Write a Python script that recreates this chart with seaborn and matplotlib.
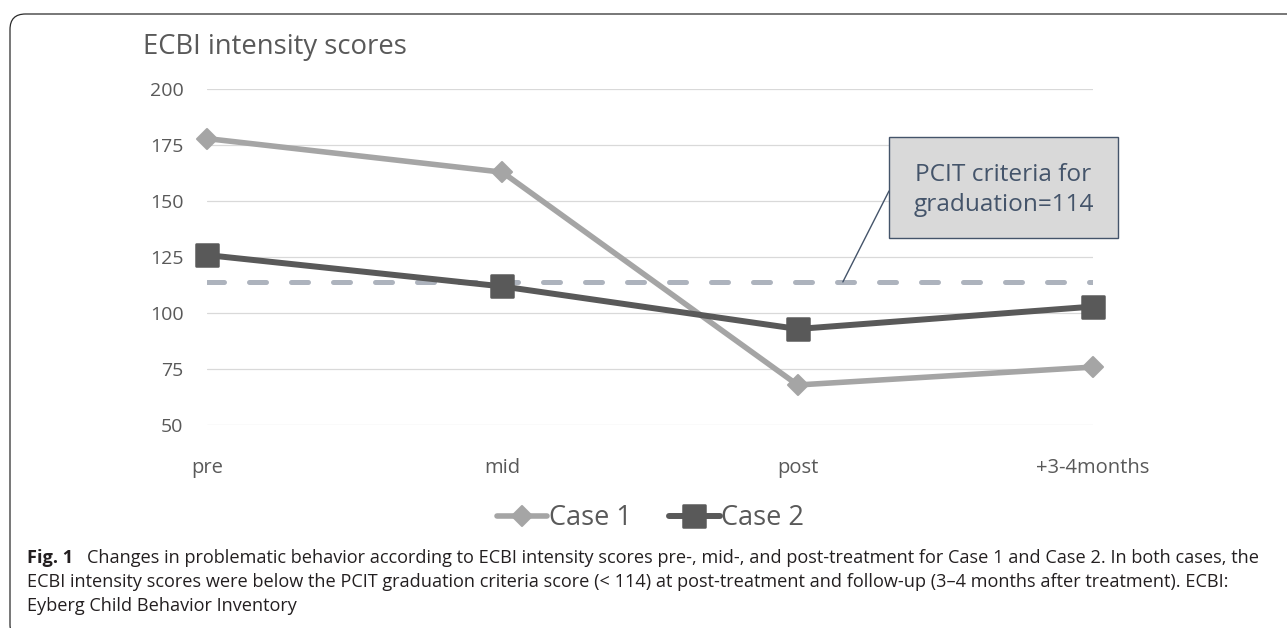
import matplotlib
matplotlib.use("Agg")
import matplotlib.pyplot as plt
import seaborn as sns
import pandas as pd
from matplotlib.patches import FancyBboxPatch, Rectangle
from matplotlib.markers import MarkerStyle
from matplotlib.lines import Line2D

# ECBI intensity scores at each assessment point
timepoints = ["pre", "mid", "post", "+3-4months"]
case1 = [178, 163, 68, 76]
case2 = [126, 112, 93, 103]
graduation_cutoff = 114
y_ticks = [50, 75, 100, 125, 150, 175, 200]
case_names = ["Case 1", "Case 2"]
case_colors = ["#A5A5A5", "#595959"]

sns.set_theme(style="white")
plt.rcParams["font.family"] = ["Open Sans", "DejaVu Sans"]

W, H = 1287, 628
fig = plt.figure(figsize=(W / 100, H / 100), dpi=100)
fig.patch.set_facecolor("white")

def px(x, y):
    """Figure-pixel position (top-left origin) to figure fraction."""
    return x / W, 1 - y / H

# outer frame with rounded corner
frame = FancyBboxPatch(px(10, 640), (W + 40) / W, (640 - 14) / H,
                       boxstyle="round,pad=0,rounding_size=0.012",
                       transform=fig.transFigure, fc="none", ec="#2b2b2b",
                       lw=0.9, mutation_aspect=W / H, zorder=0)
fig.patches.append(frame)

left, top = px(207, 89.3)
_, bottom = px(0, 425.3)
ax = fig.add_axes([left, bottom, (1093 - 207) / W, top - bottom])

df = pd.DataFrame({
    "pos": list(range(len(timepoints))) * 2,
    "score": case1 + case2,
    "case": [case_names[0]] * 4 + [case_names[1]] * 4,
})

# criterion line
ax.axhline(graduation_cutoff, color="#ADB3BD", lw=3.6, dashes=(3.4, 5.0),
           dash_capstyle="round", zorder=1)

sns.lineplot(data=df, x="pos", y="score", hue="case", palette=case_colors,
             markers=False, dashes=False, legend=False, ax=ax, zorder=3)

marker_specs = [("D", 10.6, 1.5), ("s", 15.4, 1.8)]
lw_specs = [4.0, 4.3]
for line, (mk, ms, mew), lw in zip(ax.lines[1:], marker_specs, lw_specs):
    line.set_marker(MarkerStyle(mk, joinstyle="round"))
    line.set_markersize(ms)
    line.set_markeredgewidth(mew)
    line.set_markeredgecolor(line.get_color())
    line.set_markerfacecolor(line.get_color())
    line.set_linewidth(lw)
    line.set_solid_joinstyle("round")
    line.set_solid_capstyle("butt")
    line.set_clip_on(False)

ax.set_xlim(0, len(timepoints) - 1)
ax.set_ylim(y_ticks[0], y_ticks[-1])
ax.set_yticks(y_ticks)
ax.set_xticks(range(len(timepoints)))
ax.set_xticklabels(timepoints)
ax.set_xlabel("")
ax.set_ylabel("")
ax.yaxis.grid(True, color="#D9D9D9", lw=0.9)
ax.xaxis.grid(False)
ax.set_axisbelow(True)
for s in ax.spines.values():
    s.set_visible(False)
ax.tick_params(axis="y", length=0, pad=17, labelsize=14, labelcolor="#595959")
ax.tick_params(axis="x", length=0, pad=23.5, labelsize=14.5, labelcolor="#595959")
ax.patch.set_alpha(0)

# chart title
fig.text(*px(143, 47), "ECBI intensity scores", fontsize=19.8, color="#595959",
         ha="left", va="center")

# legend
handles = []
for (mk, ms, mew), lw, c in zip(marker_specs, lw_specs, case_colors):
    handles.append(Line2D([], [], color=c, lw=lw,
                          marker=MarkerStyle(mk, joinstyle="round"),
                          markersize=ms, markeredgewidth=mew,
                          markerfacecolor=c, markeredgecolor=c))
fig.legend(handles, case_names, loc="center", bbox_to_anchor=px(650.5, 518),
           ncol=2, frameon=False, fontsize=19.5, labelcolor="#595959",
           handlelength=1.85, handletextpad=0.05, columnspacing=1.4,
           borderpad=0, borderaxespad=0)

# graduation criterion callout
bx0, by0, bx1, by1 = 889, 136.7, 1118, 237.7
box = Rectangle(px(bx0, by1), (bx1 - bx0) / W, (by1 - by0) / H,
                transform=fig.transFigure, fc="#D9D9D9", ec="#44546A",
                lw=1.0, zorder=5)
fig.patches.append(box)
fig.text(*px((bx0 + bx1) / 2, 190), f"PCIT criteria for\ngraduation={graduation_cutoff}",
         fontsize=17.6, color="#44546A", ha="center", va="center",
         linespacing=1.38, zorder=6)
ax.annotate("", xy=(2.153, graduation_cutoff), xycoords="data",
            xytext=(bx0, H - 191), textcoords="figure pixels",
            arrowprops=dict(arrowstyle="-", color="#44546A", lw=1.0,
                            shrinkA=0, shrinkB=0), zorder=4)

# caption
cap_color = "#231F20"
cap_size = 13.1
fig.text(27 / W, 1 - 563 / H, "Fig. 1", fontsize=cap_size, fontweight="bold",
         color=cap_color, ha="left", va="baseline")
fig.text(87 / W, 1 - 563 / H,
         "Changes in problematic behavior according to ECBI intensity scores pre-, mid-, and "
         "post-treatment for Case 1 and Case 2. In both cases, the",
         fontsize=cap_size, color=cap_color, ha="left", va="baseline")
fig.text(27 / W, 1 - 587 / H,
         "ECBI intensity scores were below the PCIT graduation criteria score (< 114) at "
         "post-treatment and follow-up (3\u20134 months after treatment). ECBI:",
         fontsize=cap_size, color=cap_color, ha="left", va="baseline")
fig.text(27 / W, 1 - 611 / H, "Eyberg Child Behavior Inventory",
         fontsize=cap_size, color=cap_color, ha="left", va="baseline")

fig.savefig("out.png", dpi=100, facecolor="white")
